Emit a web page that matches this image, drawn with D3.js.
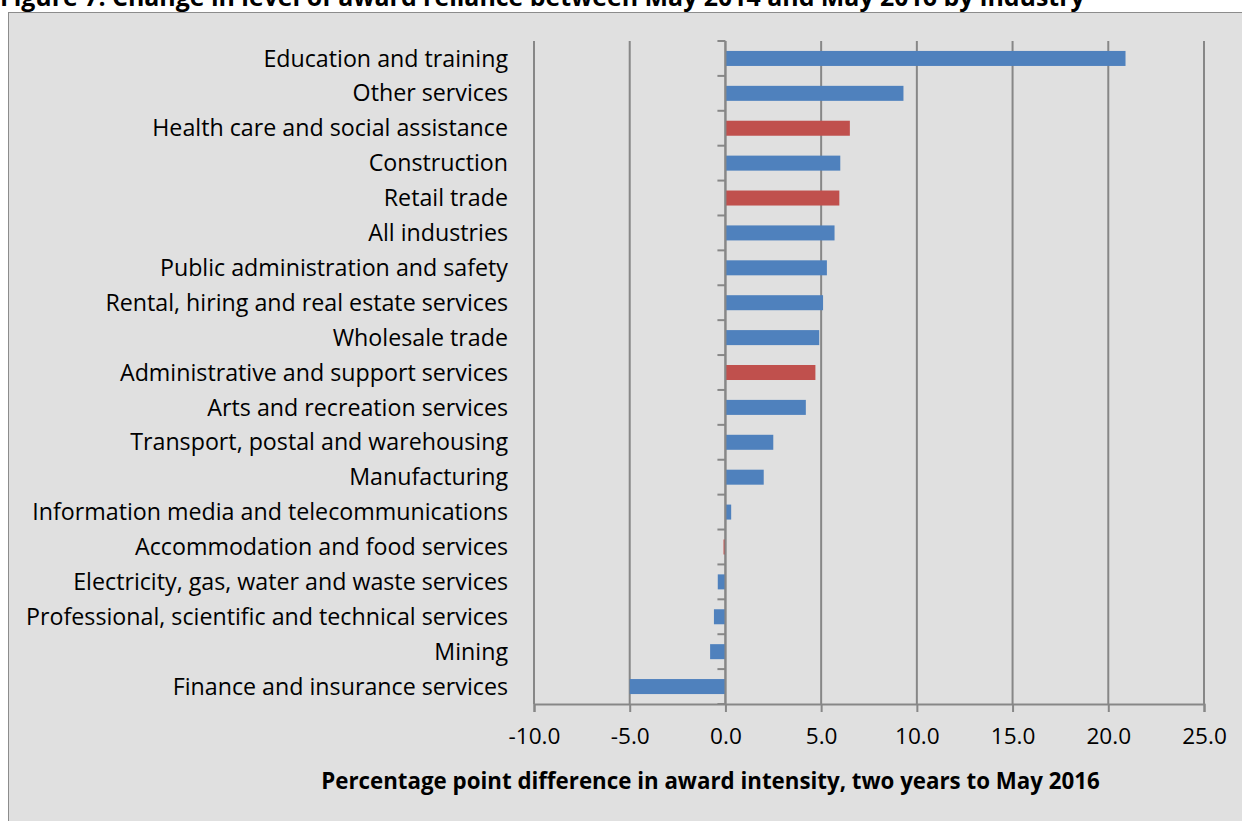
<!DOCTYPE html>
<html>
<head>
<meta charset="utf-8">
<script src="https://cdn.jsdelivr.net/npm/d3@7"></script>
<style>
  html, body { margin: 0; padding: 0; background: #ffffff; }
  svg { display: block; }
  text { font-family: "Open Sans", "Noto Sans", sans-serif; fill: #000; }
</style>
</head>
<body>
<svg id="chart" width="1242" height="821"></svg>
<script>
// Industries, top to bottom
const industries = [
  "Education and training",
  "Other services",
  "Health care and social assistance",
  "Construction",
  "Retail trade",
  "All industries",
  "Public administration and safety",
  "Rental, hiring and real estate services",
  "Wholesale trade",
  "Administrative and support services",
  "Arts and recreation services",
  "Transport, postal and warehousing",
  "Manufacturing",
  "Information media and telecommunications",
  "Accommodation and food services",
  "Electricity, gas, water and waste services",
  "Professional, scientific and technical services",
  "Mining",
  "Finance and insurance services"
];

// Percentage point change in award reliance, May 2014 to May 2016
const changes = [20.9, 9.3, 6.5, 6.0, 5.95, 5.7, 5.3, 5.1, 4.9, 4.7, 4.2, 2.5, 2.0, 0.3, -0.1, -0.4, -0.6, -0.8, -5.0];

// Highlighted industries (drawn in red)
const highlighted = [
  "Health care and social assistance",
  "Retail trade",
  "Administrative and support services",
  "Accommodation and food services"
];

const xTicks = [-10, -5, 0, 5, 10, 15, 20, 25];

const titleText = "Figure 7: Change in level of award reliance between May 2014 and May 2016 by industry";
const xAxisTitle = "Percentage point difference in award intensity, two years to May 2016";

const svg = d3.select("#chart");

// Scale a text selection's font size so its widest item spans the given width
function fitWidth(sel, target) {
  const base = 20;
  sel.attr("font-size", base);
  let w = 0;
  sel.each(function () { w = Math.max(w, this.getComputedTextLength()); });
  sel.attr("font-size", base * target / w);
}

// Chart area panel
svg.append("rect")
  .attr("x", 8.5).attr("y", 12.5)
  .attr("width", 1250).attr("height", 840)
  .attr("fill", "#e0e0e0")
  .attr("stroke", "#8c8c8c").attr("stroke-width", 1);

// Title above the panel
const title = svg.append("text")
  .attr("x", 0).attr("y", 6)
  .attr("font-weight", "bold")
  .text(titleText);
fitWidth(title, 1085);

const plot = { left: 534, right: 1204, top: 41, bottom: 704 };

const x = d3.scaleLinear().domain([-10, 25]).range([plot.left, plot.right]);
const y = d3.scaleBand().domain(industries)
  .range([plot.top, plot.bottom])
  .paddingInner(0.57).paddingOuter(0.285);

const gridColor = "#878787";

// Vertical gridlines
svg.append("g").selectAll("line")
  .data(xTicks)
  .join("line")
  .attr("x1", d => x(d)).attr("x2", d => x(d))
  .attr("y1", plot.top).attr("y2", plot.bottom)
  .attr("stroke", gridColor).attr("stroke-width", 2);

// Bars
svg.append("g").selectAll("rect")
  .data(industries.map((name, i) => ({ name, value: changes[i] })))
  .join("rect")
  .attr("x", d => x(Math.min(0, d.value)))
  .attr("width", d => Math.abs(x(d.value) - x(0)))
  .attr("y", d => y(d.name))
  .attr("height", y.bandwidth())
  .attr("fill", d => highlighted.includes(d.name) ? "#c0504d" : "#4f81bd");

// Horizontal value axis along the bottom
const xAxis = d3.axisBottom(x)
  .tickValues(xTicks)
  .tickFormat(d => d.toFixed(1))
  .tickSize(8)
  .tickPadding(16);

const gx = svg.append("g")
  .attr("transform", `translate(0,${plot.bottom})`)
  .call(xAxis);
gx.select(".domain").attr("stroke", gridColor).attr("stroke-width", 2);
gx.selectAll(".tick line").attr("stroke", gridColor).attr("stroke-width", 2);
const tickText = gx.selectAll(".tick text")
  .attr("font-family", "'Open Sans', 'Noto Sans', sans-serif")
  .attr("fill", "#000");
fitWidth(tickText, 52);

// Category axis through zero, ticks between bands
const step = y.step();
const boundaries = d3.range(industries.length + 1).map(i => plot.top + i * step);
svg.append("line")
  .attr("x1", x(0)).attr("x2", x(0))
  .attr("y1", plot.top).attr("y2", plot.bottom)
  .attr("stroke", gridColor).attr("stroke-width", 2);
svg.append("g").selectAll("line")
  .data(boundaries)
  .join("line")
  .attr("x1", x(0) - 8).attr("x2", x(0))
  .attr("y1", d => d).attr("y2", d => d)
  .attr("stroke", gridColor).attr("stroke-width", 2);

// Category labels, right-aligned at the left of the plot
const labels = svg.append("g").selectAll("text")
  .data(industries)
  .join("text")
  .attr("x", 508)
  .attr("y", d => y(d) + y.bandwidth() / 2)
  .attr("dy", "0.35em")
  .attr("text-anchor", "end")
  .text(d => d);
fitWidth(labels, 482);

// Axis title
const axisTitle = svg.append("text")
  .attr("x", 710.5).attr("y", 789)
  .attr("text-anchor", "middle")
  .attr("font-weight", "bold")
  .text(xAxisTitle);
fitWidth(axisTitle, 779);
</script>
</body>
</html>
